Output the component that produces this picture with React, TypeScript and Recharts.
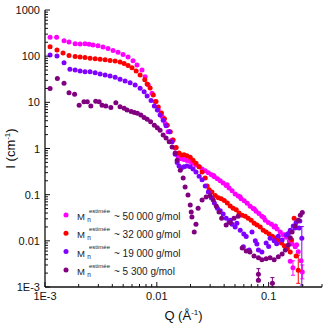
import React from 'react';
import { ScatterChart, Scatter, XAxis, YAxis, ErrorBar } from 'recharts';

// [Q (1/Å), I (1/cm), err below, err above]
type Pt = [number, number, number?, number?];

const mn50000: Pt[] = [
    [0.00111, 256], [0.00127, 258], [0.00148, 217], [0.00164, 203], [0.00186, 186], [0.00206, 183],
    [0.00228, 185], [0.00248, 181], [0.00269, 175], [0.00298, 168], [0.0033, 158], [0.00366, 146],
    [0.00406, 133], [0.0045, 122], [0.00499, 108], [0.00553, 96], [0.00613, 80], [0.00665, 64],
    [0.00737, 50], [0.00786, 36], [0.00837, 24], [0.00906, 15.8], [0.00966, 10.4], [0.0103, 6.8],
    [0.0112, 4.9], [0.0119, 3.5], [0.0126, 2.3], [0.0137, 1.53], [0.0146, 1.03], [0.0155, 0.68],
    [0.0166, 0.6], [0.0175, 0.58], [0.0186, 0.55], [0.0199, 0.52], [0.0211, 0.48], [0.0224, 0.44],
    [0.0239, 0.4], [0.0254, 0.36], [0.0271, 0.33], [0.0289, 0.3], [0.0308, 0.27], [0.0327, 0.245],
    [0.0348, 0.22], [0.0369, 0.2], [0.0392, 0.18], [0.0417, 0.158], [0.0443, 0.14], [0.0471, 0.122],
    [0.0502, 0.104], [0.0534, 0.094], [0.0568, 0.082], [0.0605, 0.074], [0.0643, 0.065], [0.0684, 0.056],
    [0.0727, 0.05], [0.0772, 0.044], [0.0819, 0.039], [0.087, 0.034], [0.0933, 0.028], [0.0993, 0.025],
    [0.106, 0.023], [0.112, 0.02], [0.119, 0.018], [0.127, 0.0156], [0.135, 0.0135], [0.144, 0.012],
    [0.153, 0.0099], [0.162, 0.0085], [0.173, 0.0074], [0.184, 0.0058],
    [0.0322, 0.26], [0.0425, 0.165], [0.0555, 0.09], [0.0745, 0.049], [0.0905, 0.032], [0.115, 0.021],
    [0.14, 0.0135], [0.16, 0.0105], [0.178, 0.0082],
    [0.156, 0.0036], [0.165, 0.0026, 0.0008, 0.0011], [0.195, 0.0037], [0.2, 0.0021, 0.0006, 0.0009],
];

const mn32000: Pt[] = [
    [0.00111, 160], [0.00128, 136], [0.00145, 117], [0.00164, 103], [0.00186, 98], [0.00206, 96],
    [0.00228, 93], [0.00253, 90], [0.00281, 88], [0.00311, 86], [0.00345, 84], [0.00382, 81],
    [0.00424, 79], [0.00469, 75], [0.0051, 69], [0.00553, 63], [0.006, 56], [0.00653, 48],
    [0.00709, 39], [0.0078, 31], [0.00819, 25], [0.00871, 20.5], [0.0093, 14.5], [0.00984, 10.4],
    [0.0103, 7.9], [0.011, 5.9], [0.0117, 4.4], [0.0124, 3.2], [0.0132, 2.3], [0.014, 1.53],
    [0.0149, 1.05], [0.0158, 0.8], [0.0166, 0.72], [0.0175, 0.73], [0.0186, 0.7], [0.0199, 0.65],
    [0.0211, 0.56], [0.0224, 0.48], [0.0239, 0.4], [0.0254, 0.31], [0.0271, 0.23], [0.0282, 0.155],
    [0.0294, 0.128], [0.0311, 0.114], [0.0333, 0.096], [0.0355, 0.086], [0.0377, 0.082], [0.0401, 0.075],
    [0.0427, 0.066], [0.0453, 0.057], [0.0481, 0.051], [0.0513, 0.047], [0.0544, 0.04], [0.058, 0.036],
    [0.0618, 0.034], [0.0656, 0.031], [0.0698, 0.028], [0.0743, 0.024], [0.0788, 0.022], [0.0841, 0.02],
    [0.0895, 0.017], [0.095, 0.0155], [0.101, 0.014], [0.108, 0.0125], [0.115, 0.0115], [0.122, 0.0104],
    [0.13, 0.009], [0.138, 0.0078], [0.147, 0.0068], [0.156, 0.0057], [0.16, 0.0104], [0.169, 0.031],
    [0.176, 0.0047], [0.184, 0.0023, 0.0011, 0.0026],
];

const mn19000: Pt[] = [
    [0.00111, 106], [0.00128, 101], [0.00148, 72], [0.00167, 52], [0.00186, 50], [0.00206, 48],
    [0.00228, 46], [0.00253, 46], [0.00281, 44], [0.00311, 41], [0.00345, 39], [0.00382, 37],
    [0.00424, 35], [0.00469, 31.6], [0.0052, 29], [0.00577, 26.6], [0.0064, 23.8], [0.00709, 20.3],
    [0.0077, 17], [0.00819, 13.7], [0.00888, 10.9], [0.0095, 8.3], [0.0101, 6.8], [0.0107, 5.3],
    [0.0114, 4.1], [0.0121, 3.1], [0.0129, 2.3], [0.0137, 1.4], [0.0146, 0.75], [0.0152, 0.5],
    [0.0158, 0.42], [0.0166, 0.38], [0.0175, 0.4], [0.0186, 0.42], [0.0199, 0.4], [0.0211, 0.36],
    [0.0224, 0.31], [0.0239, 0.25], [0.0254, 0.21], [0.0271, 0.155], [0.0289, 0.114], [0.0308, 0.085],
    [0.0327, 0.066], [0.0348, 0.051], [0.0369, 0.045], [0.0392, 0.038], [0.0417, 0.031], [0.0443, 0.026],
    [0.0471, 0.023], [0.0502, 0.02], [0.0557, 0.017], [0.0594, 0.0074], [0.063, 0.0124], [0.067, 0.0063],
    [0.071, 0.0155], [0.076, 0.01], [0.081, 0.0063], [0.087, 0.0057], [0.095, 0.009], [0.103, 0.0114],
    [0.112, 0.01], [0.122, 0.0125], [0.132, 0.0104], [0.144, 0.0134], [0.156, 0.017], [0.166, 0.021],
    [0.176, 0.025], [0.187, 0.019],
    [0.0455, 0.028], [0.052, 0.024], [0.06, 0.014], [0.0785, 0.0085], [0.1, 0.0075], [0.118, 0.0086],
    [0.15, 0.0145], [0.172, 0.019], [0.19, 0.027],
    [0.198, 0.0114, 0.0103, 0.009],
];

const mn5300: Pt[] = [
    [0.00111, 20], [0.00129, 33], [0.00148, 26], [0.00164, 16.2], [0.00184, 15], [0.00202, 8.7],
    [0.00223, 10.3], [0.00239, 10.3], [0.00257, 8.3], [0.00284, 10.6], [0.00305, 10.3], [0.00324, 8.7],
    [0.0035, 8.3], [0.00388, 7.7], [0.0043, 9.8], [0.00469, 8], [0.0051, 7.4], [0.00542, 6.8],
    [0.0059, 6.3], [0.0063, 6], [0.0067, 5.8], [0.0072, 5.3], [0.0077, 4.7], [0.0082, 4.3],
    [0.0088, 3.8], [0.0095, 3.2], [0.0101, 2.8], [0.0107, 2.5], [0.0114, 1.96], [0.0121, 1.69],
    [0.0129, 1.4], [0.0137, 1.08], [0.0146, 0.8], [0.0152, 0.56], [0.0162, 0.34], [0.0172, 0.23],
    [0.0179, 0.147], [0.019, 0.098], [0.0199, 0.06], [0.0203, 0.042], [0.0206, 0.033], [0.0216, 0.0155],
    [0.0224, 0.023], [0.0234, 0.051], [0.0254, 0.077], [0.0276, 0.089], [0.03, 0.095], [0.032, 0.077],
    [0.034, 0.057], [0.036, 0.042], [0.038, 0.031], [0.0417, 0.022], [0.0453, 0.025], [0.049, 0.031],
    [0.0534, 0.034], [0.058, 0.007], [0.063, 0.006], [0.068, 0.0057], [0.074, 0.0047], [0.081, 0.0043],
    [0.087, 0.0039], [0.095, 0.0041], [0.103, 0.0043], [0.112, 0.0039], [0.122, 0.0045], [0.132, 0.0052],
    [0.141, 0.0063], [0.15, 0.0081], [0.156, 0.0116], [0.162, 0.0155], [0.173, 0.021], [0.184, 0.028],
    [0.192, 0.036], [0.2, 0.041],
    [0.081, 0.0019, 0.0006, 0.0006], [0.081, 0.0014], [0.108, 0.0012, 0.0002, 0.0004],
];

const series = [
    { key: '50000', label: '~ 50 000 g/mol', color: '#ff00ff', points: mn50000 },
    { key: '32000', label: '~ 32 000 g/mol', color: '#ff0000', points: mn32000 },
    { key: '19000', label: '~ 19 000 g/mol', color: '#8000ff', points: mn19000 },
    { key: '5300', label: '~ 5 300 g/mol', color: '#800080', points: mn5300 },
];

const xMajor = [0.001, 0.01, 0.1];
const xMajorLabels = ['1E-3', '0.01', '0.1'];
const yMajor = [0.001, 0.01, 0.1, 1, 10, 100, 1000];
const yMajorLabels = ['1E-3', '0.01', '0.1', '1', '10', '100', '1000'];

const X_DOMAIN: [number, number] = [0.001, 0.3];
const Y_DOMAIN: [number, number] = [0.001, 1000];

const FONT = '"Liberation Sans", Arial, sans-serif';
const INK = '#111';
const AXIS_LINE = { stroke: INK, strokeWidth: 1.3 };

// decade ticks plus 2..9 minor ticks inside the domain
const logTicks = (majors: number[], max: number) => {
    const out: number[] = [];
    majors.forEach((d) => {
        for (let m = 1; m < 10; m++) {
            const v = +(d * m).toPrecision(3);
            if (v <= max) out.push(v);
        }
    });
    return out;
};
const xTicks = logTicks(xMajor, X_DOMAIN[1]);
const yTicks = logTicks(yMajor, Y_DOMAIN[1]);

const majorLabel = (v: number, majors: number[], labels: string[]) => {
    const idx = majors.findIndex((m) => Math.abs(m - v) / m < 1e-6);
    return idx >= 0 ? labels[idx] : null;
};

const BottomTick = ({ x, y, payload }: any) => {
    const lbl = majorLabel(payload.value, xMajor, xMajorLabels);
    return (
        <g>
            <line x1={x} x2={x} y1={y} y2={y - (lbl ? 5 : 3)} stroke={INK} />
            {lbl && (
                <text x={x} y={y + 12.5} textAnchor="middle" fontSize={11} fill={INK} fontFamily={FONT}>
                    {lbl}
                </text>
            )}
        </g>
    );
};

const TopTick = ({ x, y, payload }: any) => {
    const major = majorLabel(payload.value, xMajor, xMajorLabels);
    return <line x1={x} x2={x} y1={y} y2={y + (major ? 5 : 3)} stroke={INK} />;
};

const LeftTick = ({ x, y, payload }: any) => {
    const lbl = majorLabel(payload.value, yMajor, yMajorLabels);
    return (
        <g>
            <line x1={x} x2={x + (lbl ? 5 : 3)} y1={y} y2={y} stroke={INK} />
            {lbl && (
                <text x={x - 5} y={y + 4} textAnchor="end" fontSize={11} fill={INK} fontFamily={FONT}>
                    {lbl}
                </text>
            )}
        </g>
    );
};

const RightTick = ({ x, y, payload }: any) => {
    const major = majorLabel(payload.value, yMajor, yMajorLabels);
    return <line x1={x} x2={x - (major ? 5 : 3)} y1={y} y2={y} stroke={INK} />;
};

const XTitle = ({ viewBox }: any) => {
    const vb = viewBox ?? { x: 45, y: 287, width: 277, height: 36 };
    return (
        <text x={vb.x + vb.width / 2} y={vb.y + 32.5} textAnchor="middle" fontSize={13} fill={INK} fontFamily={FONT}>
            Q (Å<tspan dy={-5} fontSize={8}>-1</tspan><tspan dy={5}>)</tspan>
        </text>
    );
};

const YTitle = ({ viewBox }: any) => {
    const vb = viewBox ?? { x: 0, y: 10, width: 45, height: 277 };
    const cx = 14.5;
    const cy = vb.y + vb.height / 2;
    return (
        <text
            x={cx}
            y={cy}
            transform={`rotate(-90 ${cx} ${cy})`}
            textAnchor="middle"
            fontSize={13}
            fill={INK}
            fontFamily={FONT}
        >
            I (cm<tspan dy={-5} fontSize={8}>-1</tspan><tspan dy={5}>)</tspan>
        </text>
    );
};

const toRows = (pts: Pt[]) =>
    pts.map(([q, i, lo, hi]) => ({ q, i, err: lo != null ? [lo, hi ?? lo] : undefined }));

export default function App() {
    return (
        <div style={{ position: 'relative', width: 328, height: 323, fontFamily: FONT }}>
            <style>{'body{margin:0}'}</style>
            <ScatterChart width={328} height={323} margin={{ top: 10, right: 6, bottom: 0, left: 0 }}>
                <XAxis
                    dataKey="q"
                    type="number"
                    scale="log"
                    domain={X_DOMAIN}
                    allowDataOverflow
                    ticks={xTicks}
                    interval={0}
                    tickSize={0}
                    tickMargin={0}
                    tick={<BottomTick />}
                    axisLine={AXIS_LINE}
                    height={36}
                    label={<XTitle />}
                />
                <XAxis
                    xAxisId="top"
                    orientation="top"
                    dataKey="q"
                    type="number"
                    scale="log"
                    domain={X_DOMAIN}
                    allowDataOverflow
                    ticks={xTicks}
                    interval={0}
                    tickSize={0}
                    tickMargin={0}
                    tick={<TopTick />}
                    axisLine={AXIS_LINE}
                    height={0}
                />
                <YAxis
                    dataKey="i"
                    type="number"
                    scale="log"
                    domain={Y_DOMAIN}
                    allowDataOverflow
                    ticks={yTicks}
                    interval={0}
                    tickSize={0}
                    tickMargin={0}
                    tick={<LeftTick />}
                    axisLine={AXIS_LINE}
                    width={45}
                    label={<YTitle />}
                />
                <YAxis
                    yAxisId="right"
                    orientation="right"
                    dataKey="i"
                    type="number"
                    scale="log"
                    domain={Y_DOMAIN}
                    allowDataOverflow
                    ticks={yTicks}
                    interval={0}
                    tickSize={0}
                    tickMargin={0}
                    tick={<RightTick />}
                    axisLine={AXIS_LINE}
                    width={0}
                />
                {series.map((s) => (
                    <Scatter
                        key={s.key}
                        name={s.key}
                        data={toRows(s.points)}
                        isAnimationActive={false}
                        shape={(p: any) => <circle cx={p.cx} cy={p.cy} r={2.5} fill={s.color} />}
                    >
                        <ErrorBar dataKey="err" direction="y" width={2} stroke={s.color} strokeWidth={1} isAnimationActive={false} />
                    </Scatter>
                ))}
            </ScatterChart>

            {/* legend inside the plot, lower left */}
            <svg style={{ position: 'absolute', left: 58, top: 204 }} width={140} height={75} fontFamily={FONT}>
                {series.map((s, idx) => {
                    const cy = 11 + idx * 18.3;
                    return (
                        <g key={s.key}>
                            <circle cx={8} cy={cy} r={2.5} fill={s.color} />
                            <text x={19} y={cy + 5} fontSize={9.5} fill="#222">M</text>
                            <text x={31} y={cy - 2.3} fontSize={6} fill="#222">estimée</text>
                            <text x={29.3} y={cy + 7} fontSize={6.5} fill="#222">n</text>
                            <text x={56} y={cy + 5} fontSize={10} fill="#222">{s.label}</text>
                        </g>
                    );
                })}
            </svg>
        </div>
    );
}
